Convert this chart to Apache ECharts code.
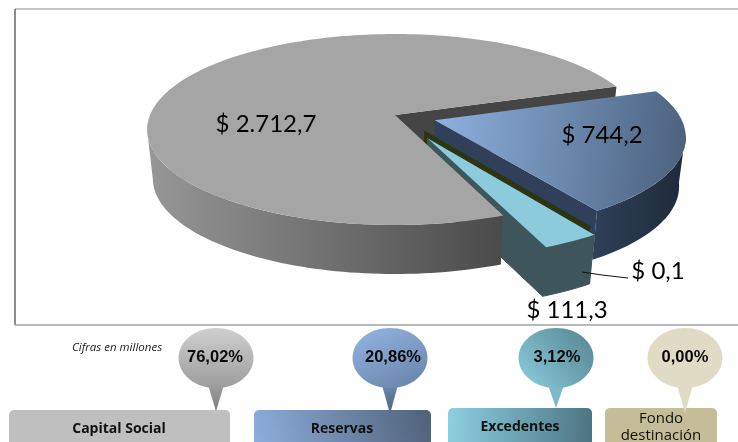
<!DOCTYPE html>
<html><head><meta charset="utf-8">
<style>html,body{margin:0;padding:0;background:#fff}#c{width:738px;height:442px}</style>
<script src="https://cdn.jsdelivr.net/npm/echarts@6/dist/echarts.min.js"></script>
</head><body><div id="c"></div>
<script>
// Data, in legend order
const categories = ['Capital Social', 'Reservas', 'Excedentes', 'Fondo destinación'];
const values = [2712.7, 744.2, 111.3, 0.1];
const valueLabels = ['$ 2.712,7', '$ 744,2', '$ 111,3', '$ 0,1'];
const percentLabels = ['76,02', '20,86', '3,12', '0,00'];
const unitNote = 'Cifras en millones';

// Pie drawing order (clockwise from the front of the big slice)
const pieOrder = [0, 1, 3, 2];
const explode = [0, 0.17, 0.273, 0.215];
const startAngle = 67.7;

// Projection of the tilted disc
const P = {cx: 395, cy: 115, rx: 245, ry: 93.3, k: 0.152, depth: 49, shrink: 0.023};
function project(u, v, z) {
  const s = 1 / (1 - P.k * v);
  const X0 = P.rx * u * s, Y0 = P.ry * v * s;
  return [P.cx + X0 * (1 - P.shrink * z), P.cy + Y0 + P.depth * z];
}
const total = values.reduce((a, b) => a + b, 0);
const slices = {};
(function () {
  let a = startAngle;
  pieOrder.forEach(i => {
    const sweep = values[i] / total * 360;
    const mid = (a + sweep / 2) * Math.PI / 180;
    slices[i] = {a0: a, a1: a + sweep, ox: explode[i] * Math.cos(mid), oy: explode[i] * Math.sin(mid)};
    a += sweep;
  });
})();
function rim(s, deg, z) {
  const t = deg * Math.PI / 180;
  return project(s.ox + Math.cos(t), s.oy + Math.sin(t), z);
}
function apex(s, z) { return project(s.ox, s.oy, z); }
function arc(s, a0, a1, z) {
  const n = Math.max(2, Math.ceil((a1 - a0) / 1.5)), pts = [];
  for (let i = 0; i <= n; i++) pts.push(rim(s, a0 + (a1 - a0) * i / n, z));
  return pts;
}
function lin(x, y, x2, y2, c0, c1) {
  return {type: 'linear', x, y, x2, y2, colorStops: [{offset: 0, color: c0}, {offset: 1, color: c1}]};
}
const topFill = [
  '#a5a5a5',
  lin(0, 0, 1, 0.25, '#8fb2e0', '#4d6380'),
  '#8ccbdb',
  '#2c3612'
];
const wallFill = [
  lin(0, 0, 1, 0, '#979797', '#4a4a4a'),
  lin(0, 0, 1, 0, '#2f4059', '#1f2a38'),
  '#3d555b',
  '#2c3612'
];
const radialFill = ['#454545', '#30405a', '#3d555b', '#2c3612'];

function poly(points, fill, extra) {
  return Object.assign({type: 'polygon', shape: {points}, style: {fill}, silent: true}, extra || {});
}
function radial(s, deg, fill) {
  return poly([apex(s, 0), rim(s, deg, 0), rim(s, deg, 1), apex(s, 1)], fill);
}
function backLayer(params, api) {
  const i = api.value(1), s = slices[i], ch = [];
  if (i === 0) {
    ch.push(radial(s, s.a1, radialFill[0]), radial(s, s.a0 + 360, radialFill[0]));
  } else if (i === 1) {
    ch.push(radial(s, s.a1, radialFill[1]));
  } else if (i === 3) {
    ch.push(poly([apex(s, 0), rim(s, s.a1, 0), rim(s, s.a1, 1), apex(s, 1)], radialFill[3],
      {style: {fill: radialFill[3], stroke: radialFill[3], lineWidth: 1.6}}));
  } else {
    ch.push(poly([apex(s, 0), rim(s, s.a1, 0), rim(s, s.a1, 1), apex(s, 1)], radialFill[2],
      {style: {fill: radialFill[2], stroke: radialFill[2], lineWidth: 1}}));
  }
  return {type: 'group', children: ch};
}
function frontLayer(params, api) {
  const i = api.value(1), s = slices[i], ch = [];
  // visible outer wall: only the part turned to the viewer
  let w0 = s.a0, w1 = s.a1;
  if (i === 0) { w1 = 171; }
  if (i === 1) { w0 = 360 + 8; }
  if (i !== 3) {
    const t = arc(s, w0, w1, 0), b = arc(s, w0, w1, 1).reverse();
    const extra = i === 2 ? {style: {fill: wallFill[2], stroke: wallFill[2], lineWidth: 1}} : null;
    ch.push(poly(t.concat(b), wallFill[i], extra));
  }
  const top = [apex(s, 0)].concat(arc(s, s.a0, s.a1, 0));
  if (i === 3) {
    ch.push(poly(top, topFill[3], {style: {fill: topFill[3], stroke: topFill[3], lineWidth: 1.9}}));
  } else {
    ch.push(poly(top, topFill[i]));
  }
  return {type: 'group', children: ch};
}
const sliceRows = pieOrder.map(i => [values[i], i]);

// Layout of annotations
const valueLabelPos = [[266, 124], [602, 135], [567, 310], [658, 271]];
const bubbles = [
  {cx: 216, tx: 215, tip: 411, fill: lin(0.5, 0, 0.5, 1, '#cfcfcf', '#9c9c9c'), tail: lin(0, 0, 0, 1, '#a0a0a0', '#7a7a7a')},
  {cx: 390, tx: 393, tip: 414, fill: lin(0.1, 0, 0.5, 1, '#92b4e2', '#6f8bb2'), tail: lin(0, 0, 0, 1, '#6d88ad', '#50627c')},
  {cx: 556, tx: 557, tip: 408, fill: lin(0, 1, 1, 0, '#8ccdde', '#55838f'), tail: '#7fb9c8'},
  {cx: 685, tx: 685, tip: 413, fill: '#dfdbc5', tail: '#dfdbc5'}
];
const boxes = [
  {x: 9, y: 410, w: 221, fill: '#bfbfbf', tx: 119},
  {x: 254, y: 410, w: 177, fill: lin(0, 1, 1, 0, '#8fb0de', '#4e6178'), tx: 342},
  {x: 448, y: 408, w: 144, fill: lin(0, 0, 1, 0.2, '#8dd0e2', '#4c7583'), tx: 520},
  {x: 605, y: 408, w: 112, fill: '#c5bd97', tx: 661}
];
const graphics = [];
// frame
[[15, 9, 738, 9, '#c4c4c4', 2], [15, 9, 15, 325, '#8c8c8c', 2], [15, 325, 738, 325, '#a0a0a0', 1.5]].forEach(l => {
  graphics.push({type: 'line', z: 1, silent: true, shape: {x1: l[0], y1: l[1], x2: l[2], y2: l[3]}, style: {stroke: l[4], lineWidth: l[5]}});
});
// leader line
graphics.push({type: 'polyline', z: 60, silent: true, shape: {points: [[582, 272], [602, 275], [628, 278]]}, style: {stroke: '#111', lineWidth: 1, fill: 'none'}});
// value labels
valueLabels.forEach((t, i) => {
  graphics.push({type: 'text', z: 60, silent: true, x: valueLabelPos[i][0], y: valueLabelPos[i][1],
    style: {text: t, font: '24px Lato', fill: '#000', align: 'center', verticalAlign: 'middle'}});
});
// note
graphics.push({type: 'text', z: 60, silent: true, x: 72, y: 348, style: {text: unitNote, font: 'italic 11.5px "Open Sans"', fill: '#222', verticalAlign: 'middle'}});
// bubbles and boxes
categories.forEach((c, i) => {
  const b = bubbles[i], r = boxes[i];
  graphics.push({type: 'rect', z: 40, silent: true, shape: {x: r.x, y: r.y, width: r.w, height: 50, r: 5}, style: {fill: r.fill}});
  graphics.push({type: 'polygon', z: 41, silent: true, shape: {points: [[b.cx - 8, 385], [b.cx + 8, 385], [b.cx, b.tip]]}, style: {fill: b.tail}});
  graphics.push({type: 'ellipse', z: 42, silent: true, shape: {cx: b.cx, cy: 358, rx: 37.5, ry: 30}, style: {fill: b.fill}});
  graphics.push({type: 'text', z: 60, silent: true, x: b.tx, y: 357.5,
    style: {text: percentLabels[i] + '%', font: 'bold 16.5px "Liberation Sans"', fill: '#0a0a0a', align: 'center', verticalAlign: 'middle'}});
  const words = i === 3 ? c.split(' ') : [c];
  words.forEach((w, k) => {
    graphics.push({type: 'text', z: 60, silent: true, x: r.tx, y: i === 3 ? 419 + k * 17 : r.y + 19,
      style: {text: w, font: (i === 3 ? '15px' : 'bold 14px') + ' "Open Sans"', fill: '#111', align: 'center', verticalAlign: 'middle'}});
  });
});

const chart = echarts.init(document.getElementById('c'), null, {renderer: 'canvas'});
chart.setOption({
  animation: false,
  backgroundColor: '#fff',
  graphic: {elements: graphics},
  series: [
    {type: 'custom', coordinateSystem: 'none', z: 2, silent: true, data: sliceRows, renderItem: backLayer},
    {type: 'custom', coordinateSystem: 'none', z: 3, silent: true, data: sliceRows, renderItem: frontLayer}
  ]
});
</script></body></html>
